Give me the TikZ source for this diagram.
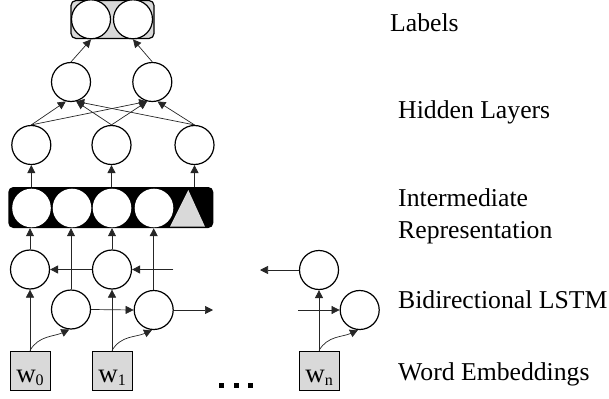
\documentclass[tikz,border=0pt]{standalone}
\usepackage{fontspec}
\setmainfont{Liberation Serif}
\usetikzlibrary{arrows.meta}
\definecolor{boxgray}{RGB}{217,217,217}
% lowered, smaller index after a word symbol
\newcommand\wsub[1]{\raisebox{-3pt}{\fontsize{16}{16}\selectfont #1}}
\begin{document}
\begin{tikzpicture}[x=1pt,y=-1pt,
  unit/.style={circle,draw,line width=1.2pt,fill=white,minimum size=39pt,inner sep=0pt},
  slot/.style={circle,fill=white,minimum size=38.6pt,inner sep=0pt},
  conn/.style={line width=0.7pt,draw=black!85,-{Triangle[length=8pt,width=8pt]}},
  wbox/.style={draw,line width=1pt,fill=boxgray,minimum width=40pt,minimum height=39pt,
    inner sep=0pt,text height=25pt,text depth=2pt,font=\fontsize{27}{27}\selectfont},
  caption/.style={anchor=base west,inner sep=0pt,font=\fontsize{25.7}{32}\selectfont}]
\useasboundingbox (0,0) rectangle (609,398);

% output labels
\node[draw,line width=1.2pt,fill=boxgray,rounded corners=5pt,minimum width=83pt,
  minimum height=38pt,inner sep=0pt] (lab) at (112.5,19.5) {};
\node[unit] (l0) at (91,19.3) {};
\node[unit] (l1) at (133,19.3) {};

% hidden layers
\node[unit] (h2a) at (71,82) {};
\node[unit] (h2b) at (152.3,82) {};
\node[unit] (h1a) at (31.3,145) {};
\node[unit] (h1b) at (111.5,145) {};
\node[unit] (h1c) at (194.5,145) {};

% intermediate representation
\node[fill=black,rounded corners=5pt,minimum width=205pt,minimum height=41pt,inner sep=0pt]
  (ir) at (110.8,207.5) {};
\node[slot] (r0) at (31.5,208) {};
\node[slot] (r1) at (72,208) {};
\node[slot] (r2) at (112,208) {};
\node[slot] (r3) at (154,208) {};
\fill[boxgray] (188.3,190) -- (205,226.7) -- (170,226.7) -- cycle;

% bidirectional LSTM cells
\node[unit] (b0) at (30,269.5) {};
\node[unit] (b1) at (112,269.5) {};
\node[unit] (f0) at (71,309.5) {};
\node[unit] (f1) at (153.7,310) {};
\node[unit] (bn) at (319,270) {};
\node[unit] (fn) at (359.7,310) {};
\coordinate (bfree) at (173.3,269.5);
\coordinate (ffree) at (213,310);
\coordinate (bnend) at (260,270);
\coordinate (fnstart) at (298,310);

% word embeddings
\node[wbox] (w0) at (30,370.5) {w\wsub{0}};
\node[wbox] (w1) at (112,370.5) {w\wsub{1}};
\node[wbox] (wn) at (319,370.5) {w\wsub{n}};
\fill (219.2,382.5) rectangle ++(5,5);
\fill (233.5,382.5) rectangle ++(5,5);
\fill (248.2,382.5) rectangle ++(5,5);

% connections
\draw[conn] (h2a.north) -- (l0.south);
\draw[conn] (h2b.north) -- (l1.south);
\draw[conn] (h1a.north) -- (h2a.-105);
\draw[conn] (h1b.north) -- (h2a.-75);
\draw[conn] (h1c.north) -- (h2a.-75);
\draw[conn] (h1a.north) -- (h2b.-105);
\draw[conn] (h1b.north) -- (h2b.-105);
\draw[conn] (h1c.north) -- (h2b.-75);
\draw[conn] (ir.north -| h1a) -- (h1a.south);
\draw[conn] (ir.north -| h1b) -- (h1b.south);
\draw[conn] (ir.north -| h1c) -- (h1c.south);
\draw[conn] (b0.north) -- (b0.north |- ir.south);
\draw[conn] (f0.north) -- (f0.north |- ir.south);
\draw[conn] (b1.north) -- (b1.north |- ir.south);
\draw[conn] (f1.north) -- (f1.north |- ir.south);
\draw[conn] (b1.west) -- (b0.east);
\draw[conn] (bfree) -- (b1.east);
\draw[conn] (f0.east) -- (f1.west);
\draw[conn] (f1.east) -- (ffree);
\draw[conn] (bn.west) -- (bnend);
\draw[conn] (fnstart) -- (fn.west);
\draw[conn] (w0.north) -- (b0.south);
\draw[conn] (w1.north) -- (b1.south);
\draw[conn] (wn.north) -- (bn.south);
\draw[conn] (w0.north) to[out=60,in=205] (f0.-95);
\draw[conn] (w1.north) to[out=60,in=205] (f1.-95);
\draw[conn] (wn.north) to[out=60,in=205] (fn.-95);

% layer captions
\node[caption] (tlab) at (390,32) {Labels};
\node[caption] (thid) at (398,119) {Hidden Layers};
\node[caption] (tint) at (398,206) {Intermediate};
\node[caption] (trep) at (398,238) {Representation};
\node[caption] (tlstm) at (398,308) {Bidirectional LSTM};
\node[caption] (temb) at (398,380) {Word Embeddings};
\end{tikzpicture}
\end{document}
